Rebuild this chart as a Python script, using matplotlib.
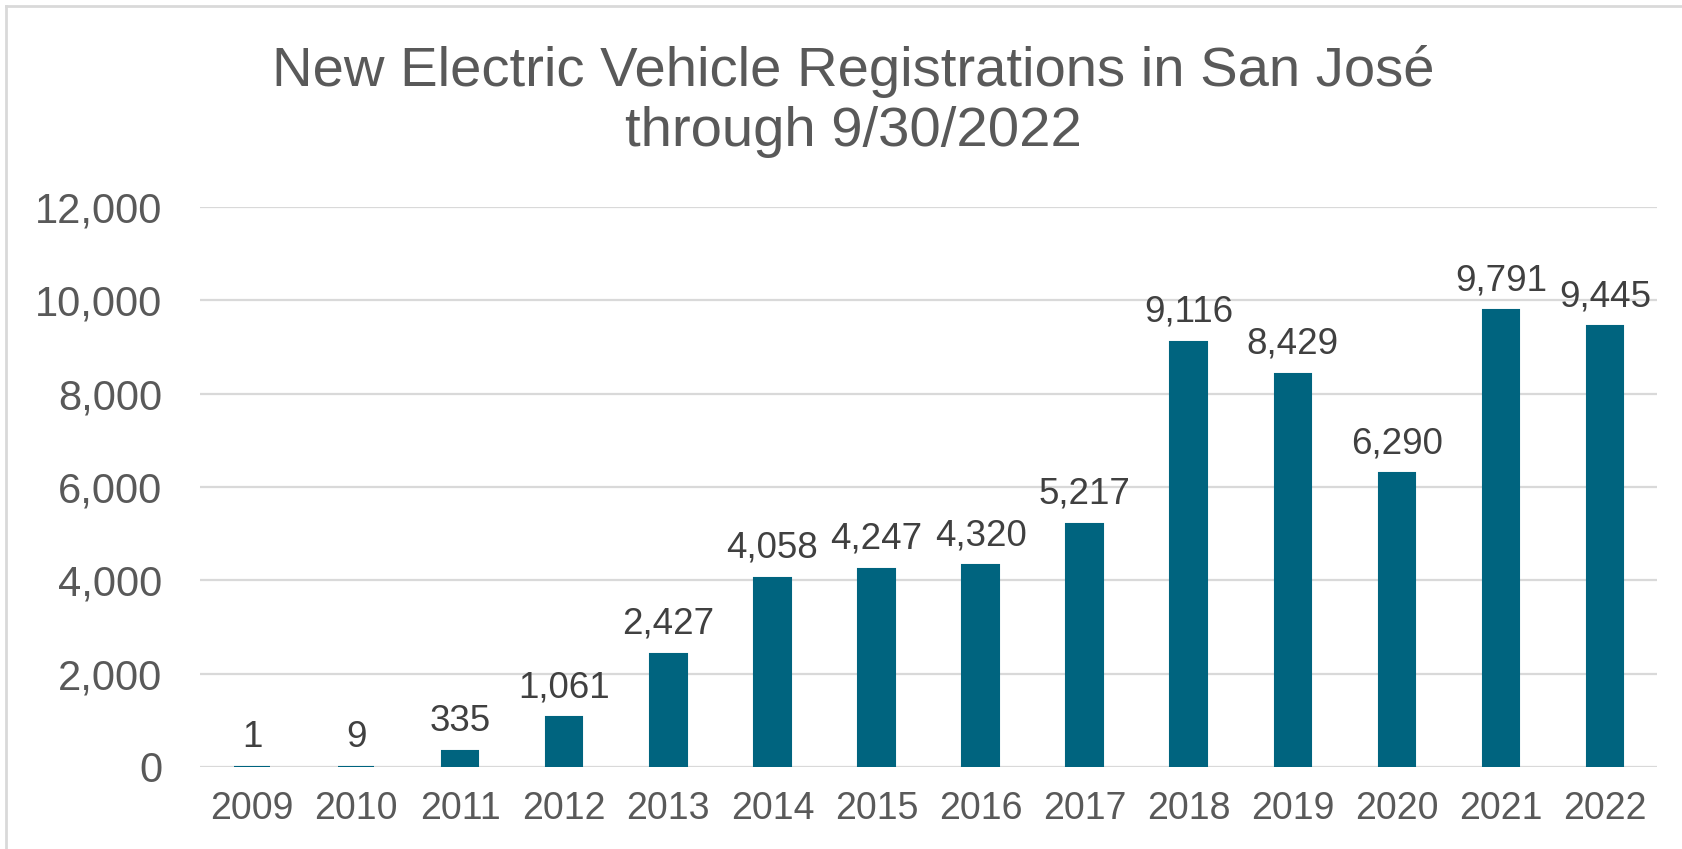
import matplotlib
matplotlib.use("Agg")
import matplotlib.pyplot as plt
from matplotlib.lines import Line2D
from matplotlib.ticker import FuncFormatter

years = ["2009", "2010", "2011", "2012", "2013", "2014", "2015",
         "2016", "2017", "2018", "2019", "2020", "2021", "2022"]
registrations = [1, 9, 335, 1061, 2427, 4058, 4247,
                 4320, 5217, 9116, 8429, 6290, 9791, 9445]
title_text = "New Electric Vehicle Registrations in San José\nthrough 9/30/2022"

plt.rcParams['font.family'] = ['Liberation Sans', 'DejaVu Sans']

W, H = 1683, 849
fig = plt.figure(figsize=(W / 100, H / 100), dpi=100)
fig.patch.set_facecolor("white")

left, right, top, bottom = 200, 1657, 207, 767
ax = fig.add_axes([left / W, 1 - bottom / H, (right - left) / W, (bottom - top) / H])

bar_color = "#00647F"
x = list(range(len(years)))
bars = ax.bar(x, registrations, width=0.35, color=bar_color,
              edgecolor=bar_color, linewidth=1.5, zorder=3)

ax.set_xlim(-0.5, len(years) - 0.5)
ax.set_ylim(0, 12000)
ax.set_yticks(range(0, 12001, 2000))
ax.yaxis.set_major_formatter(FuncFormatter(lambda v, p: f"{int(v):,}"))
ax.set_xticks(x)
ax.set_xticklabels(years)

ax.grid(axis="y", color="#D9D9D9", linewidth=1.6, zorder=0)
ax.set_axisbelow(True)
for s in ax.spines.values():
    s.set_visible(False)
ax.tick_params(axis="both", length=0, labelcolor="#595959")
ax.tick_params(axis="y", pad=27, labelsize=30)
ax.tick_params(axis="x", pad=17.5, labelsize=27)

for xi, v in zip(x, registrations):
    ax.annotate(f"{v:,}", xy=(xi, v), xytext=(0, 12), textcoords="offset pixels",
                ha="center", va="bottom", fontsize=26.5, color="#404040")

fig.text(853 / W, 1 - 101 / H, title_text, ha="center", va="center",
         fontsize=40.5, color="#595959", linespacing=1.2)

# outer chart border (left and top visible)
fig.add_artist(Line2D([6 / W, 6 / W], [0, 1 - 6 / H], transform=fig.transFigure,
                      color="#D9D9D9", linewidth=2))
fig.add_artist(Line2D([6 / W, 1], [1 - 6 / H, 1 - 6 / H], transform=fig.transFigure,
                      color="#D9D9D9", linewidth=2))

fig.savefig("out.png", dpi=100, facecolor="white")
